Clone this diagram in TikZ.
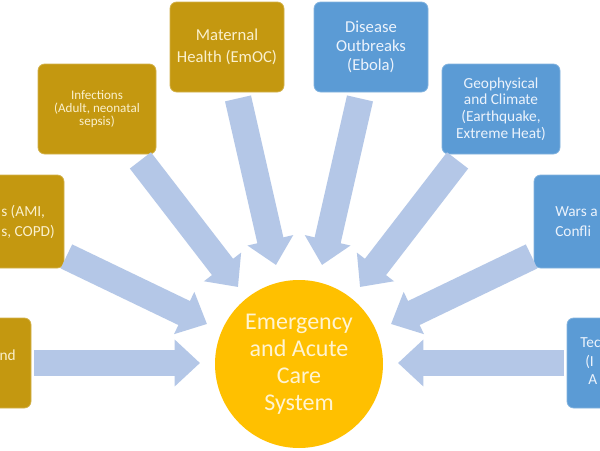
\documentclass[tikz,border=0pt]{standalone}
\usepackage{fontspec}
\setmainfont{Carlito}
\usetikzlibrary{arrows.meta}

\definecolor{hazardgold}{RGB}{196,152,16}
\definecolor{hazardblue}{RGB}{91,155,213}
\definecolor{flowblue}{RGB}{180,199,231}
\definecolor{coregold}{RGB}{255,192,0}
\definecolor{goldtext}{RGB}{250,240,205}
\definecolor{bluetext}{RGB}{236,243,252}
\definecolor{coretext}{RGB}{255,244,210}

\tikzset {
  cause box/.style = {
    rounded corners=5pt,
    minimum width=88.5pt,
    minimum height=67.5pt,
    align=center,
    inner sep=2pt
  },
  gold cause/.style = {
    cause box,
    fill=hazardgold,
    draw=hazardgold!75!white,
    line width=0.6pt,
    text=goldtext
  },
  blue cause/.style = {
    cause box,
    fill=hazardblue,
    draw=hazardblue!75!white,
    line width=0.6pt,
    text=bluetext
  },
  cut text/.style = {
    inner sep=0pt,
    align=left,
    font=\fontsize{11.5}{15}\selectfont
  },
  flow/.style = {
    draw=flowblue,
    line width=20pt,
    -{Triangle[width=34pt,length=19pt]}
  }
}

\begin{document}
\begin{tikzpicture}[x=0.75pt, y=-0.75pt]

% --- Frame (pixel grid of the reference) ---
\fill[white] (0,0) rectangle (600,450);
\useasboundingbox (0,0) rectangle (600,450);
\clip (0,0) rectangle (600,450);

% --- Left hand causes (gold) ---
\node[gold cause, minimum height=69.75pt] (ami) at (5,221.5) {};
\node[cut text, anchor=west, text=goldtext] (ami-txt) at (1,222) {s (AMI,\\s, COPD)};

\node[gold cause] (inj) at (-28,363) {};
\node[cut text, anchor=east, text=goldtext] (inj-txt) at (16,355) {nd};

\node[gold cause, font=\fontsize{9.8}{9.4}\selectfont] (inf) at (97,109)
  {Infections\\(Adult, neonatal\\sepsis)};

\node[gold cause, minimum width=85.5pt, font=\fontsize{12.5}{17}\selectfont] (mat) at (227,47)
  {Maternal\\Health (EmOC)};

% --- Right hand causes (blue) ---
\node[blue cause, minimum width=85.5pt, font=\fontsize{12.5}{14}\selectfont] (dis) at (371,47)
  {Disease\\Outbreaks\\(Ebola)};

\node[blue cause, font=\fontsize{11.5}{12.5}\selectfont] (geo) at (501,109)
  {Geophysical\\and Climate\\(Earthquake,\\Extreme Heat)};

\node[blue cause, minimum height=69.75pt] (war) at (593,221.5) {};
\node[cut text, anchor=west, text=bluetext] (war-txt) at (555,222) {Wars a\\Confli};

\node[blue cause] (tec) at (626,363) {};
\node[cut text, anchor=west, text=bluetext] (tec-a) at (580,343) {Tec};
\node[cut text, anchor=west, text=bluetext] (tec-b) at (585,362) {(I};
\node[cut text, anchor=west, text=bluetext] (tec-c) at (588,380) {A};

% --- Core system ---
\node[circle, fill=coregold, minimum size=126pt, inner sep=0pt, align=center,
      text=coretext, font=\fontsize{18}{20.3}\selectfont] (sys) at (299,364)
  {Emergency\\and Acute\\Care\\System};

% --- Arrow tips in front of the core ---
\coordinate (tip-ami) at (207,324);
\coordinate (tip-inj) at (200,363);
\coordinate (tip-inf) at (238,287);
\coordinate (tip-mat) at (276,265);
\coordinate (tip-dis) at (322,265);
\coordinate (tip-geo) at (360,287);
\coordinate (tip-war) at (391,324);
\coordinate (tip-tec) at (398,363);

% --- Flows into the core ---
\draw[flow] ([shift={(3,0)}]inj.east) -- (tip-inj);
\draw[flow] ([shift={(2,-12)}]ami.south east) -- (tip-ami);
\draw[flow] ([shift={(-16,6)}]inf.south east) -- (tip-inf);
\draw[flow] ([shift={(11,6)}]mat.south) -- (tip-mat);
\draw[flow] ([shift={(-11,6)}]dis.south) -- (tip-dis);
\draw[flow] ([shift={(16,6)}]geo.south west) -- (tip-geo);
\draw[flow] ([shift={(-2,-12)}]war.south west) -- (tip-war);
\draw[flow] ([shift={(-3,0)}]tec.west) -- (tip-tec);

\end{tikzpicture}
\end{document}
